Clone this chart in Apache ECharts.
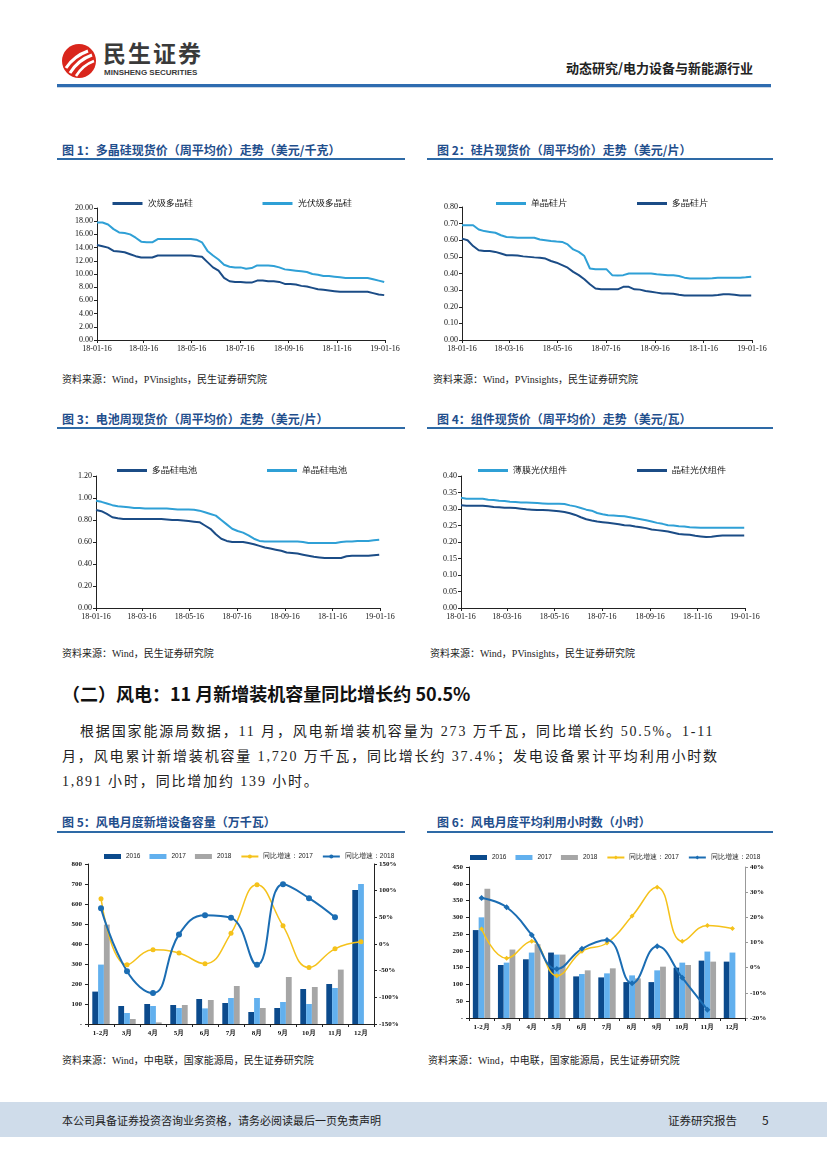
<!DOCTYPE html>
<html><head><meta charset="utf-8">
<script src="https://cdn.jsdelivr.net/npm/echarts@6/dist/echarts.min.js"></script>
<style>
body{margin:0;width:827px;height:1169px;position:relative;background:#fff;font-family:"Noto Sans CJK SC",sans-serif;overflow:hidden}
.abs{position:absolute}
.ttl{position:absolute;font-size:12px;font-weight:bold;color:#1f4e8c;white-space:nowrap;line-height:14px}
.uline{position:absolute;height:2px;background:#2e6aa6}
.src{position:absolute;font-size:10px;color:#222;white-space:nowrap;font-family:"Liberation Serif","Noto Sans CJK SC",serif}
.chart{position:absolute}
.para{position:absolute;left:62px;font-size:14px;letter-spacing:1.85px;color:#222;font-family:"Liberation Serif","Noto Sans CJK SC",serif;line-height:25px;white-space:nowrap}
</style></head>
<body>
<!-- header -->
<svg class="abs" style="left:60px;top:42px" width="38" height="38" viewBox="0 0 38 38">
<circle cx="19" cy="19" r="17" fill="#d9261c"/>
<path d="M6 26 Q14 14 28 9" stroke="#fff" stroke-width="3" fill="none"/>
<path d="M10 31 Q18 18 32 13" stroke="#fff" stroke-width="3" fill="none"/>
<path d="M16 34 Q23 23 34 19" stroke="#fff" stroke-width="2.5" fill="none"/>
</svg>
<div class="abs" style="left:103px;top:39px;font-size:23px;font-weight:bold;color:#3a3a3a;letter-spacing:2px;line-height:26px">民生证券</div>
<div class="abs" style="left:104px;top:68px;font-size:8px;font-weight:bold;color:#3a3a3a;font-family:'Liberation Sans',sans-serif;line-height:10px">MINSHENG SECURITIES</div>
<div class="abs" style="left:566px;top:60px;font-size:13px;font-weight:bold;color:#222;line-height:16px">动态研究/电力设备与新能源行业</div>
<div class="abs" style="left:57px;top:84px;width:714px;height:3px;background:#2e6cb0"></div>
<div class="abs" style="left:57px;top:87px;width:714px;height:1px;background:#c9d6e6"></div>

<!-- titles -->
<div class="ttl" style="left:62px;top:143px">图 1：多晶硅现货价（周平均价）走势（美元/千克）</div>
<div class="uline" style="left:57px;top:158px;width:348px"></div>
<div class="ttl" style="left:437px;top:143px">图 2：硅片现货价（周平均价）走势（美元/片）</div>
<div class="uline" style="left:427px;top:158px;width:346px"></div>
<div class="src" style="left:62px;top:371px">资料来源：Wind，PVinsights，民生证券研究院</div>
<div class="src" style="left:433px;top:371px">资料来源：Wind，PVinsights，民生证券研究院</div>

<div class="ttl" style="left:62px;top:412px">图 3：电池周现货价（周平均价）走势（美元/片）</div>
<div class="uline" style="left:57px;top:427px;width:348px"></div>
<div class="ttl" style="left:437px;top:412px">图 4：组件现货价（周平均价）走势（美元/瓦）</div>
<div class="uline" style="left:427px;top:427px;width:346px"></div>
<div class="src" style="left:62px;top:645px">资料来源：Wind，民生证券研究院</div>
<div class="src" style="left:430px;top:645px">资料来源：Wind，PVinsights，民生证券研究院</div>

<div class="abs" style="left:62px;top:682px;font-size:18px;font-weight:bold;color:#111;white-space:nowrap;line-height:22px">（二）风电：11 月新增装机容量同比增长约 50.5%</div>
<div class="para" style="top:719px;left:80px">根据国家能源局数据，11 月，风电新增装机容量为 273 万千瓦，同比增长约 50.5%。1-11</div>
<div class="para" style="top:744px">月，风电累计新增装机容量 1,720 万千瓦，同比增长约 37.4%；发电设备累计平均利用小时数</div>
<div class="para" style="top:769px">1,891 小时，同比增加约 139 小时。</div>

<div class="ttl" style="left:62px;top:815px">图 5：风电月度新增设备容量（万千瓦）</div>
<div class="uline" style="left:57px;top:831px;width:348px"></div>
<div class="ttl" style="left:437px;top:815px">图 6：风电月度平均利用小时数（小时）</div>
<div class="uline" style="left:427px;top:831px;width:346px"></div>
<div class="src" style="left:62px;top:1052px">资料来源：Wind，中电联，国家能源局，民生证券研究院</div>
<div class="src" style="left:428px;top:1052px">资料来源：Wind，中电联，国家能源局，民生证券研究院</div>

<!-- footer -->
<div class="abs" style="left:0;top:1102px;width:827px;height:35px;background:#cfdcea"></div>
<div class="abs" style="left:62px;top:1112px;font-size:11px;color:#222;line-height:16px;white-space:nowrap">本公司具备证券投资咨询业务资格，请务必阅读最后一页免责声明</div>
<div class="abs" style="left:668px;top:1112px;font-size:11.5px;color:#222;line-height:16px;white-space:nowrap">证券研究报告</div>
<div class="abs" style="left:762px;top:1112px;font-size:12px;color:#222;line-height:16px">5</div>

<div id="c1" class="chart" style="left:57px;top:180px;width:350px;height:180px"></div>
<div id="c2" class="chart" style="left:427px;top:180px;width:350px;height:180px"></div>
<div id="c3" class="chart" style="left:57px;top:450px;width:350px;height:180px"></div>
<div id="c4" class="chart" style="left:427px;top:450px;width:350px;height:180px"></div>
<div id="c5" class="chart" style="left:57px;top:840px;width:345px;height:200px"></div>
<div id="c6" class="chart" style="left:427px;top:840px;width:350px;height:200px"></div>

<script>
// ---------- data ----------
var weeks = ['2018-01-16','2018-01-23','2018-01-30','2018-02-06','2018-02-13','2018-02-20','2018-02-27','2018-03-06','2018-03-13','2018-03-20',
'2018-03-27','2018-04-03','2018-04-10','2018-04-17','2018-04-24','2018-05-01','2018-05-08','2018-05-15','2018-05-22','2018-05-29',
'2018-06-05','2018-06-12','2018-06-19','2018-06-26','2018-07-03','2018-07-10','2018-07-17','2018-07-24','2018-07-31','2018-08-07',
'2018-08-14','2018-08-21','2018-08-28','2018-09-04','2018-09-11','2018-09-18','2018-09-25','2018-10-02','2018-10-09','2018-10-16',
'2018-10-23','2018-10-30','2018-11-06','2018-11-13','2018-11-20','2018-11-27','2018-12-04','2018-12-11','2018-12-18','2018-12-25',
'2019-01-01','2019-01-08','2019-01-15'];
var dateTicks = ['18-01-16','18-03-16','18-05-16','18-07-16','18-09-16','18-11-16','19-01-16'];

var polySecondary = [14.4,14.2,14.0,13.5,13.4,13.3,13.0,12.7,12.5,12.5,
12.5,12.8,12.8,12.8,12.8,12.8,12.8,12.8,12.7,12.6,
11.8,11.0,10.5,9.4,8.9,8.8,8.8,8.7,8.7,9.0,
9.0,8.9,8.9,8.8,8.5,8.5,8.4,8.2,8.1,7.9,
7.7,7.6,7.5,7.4,7.3,7.3,7.3,7.3,7.3,7.3,
7.1,6.9,6.8];
var polySolar = [17.8,17.8,17.5,16.8,16.3,16.2,16.0,15.5,14.9,14.8,
14.8,15.3,15.3,15.3,15.3,15.3,15.3,15.3,15.2,14.8,
13.5,12.8,12.2,11.4,11.1,11.0,11.0,10.8,10.9,11.3,
11.3,11.3,11.2,11.0,10.7,10.6,10.5,10.4,10.3,10.0,
9.9,9.7,9.7,9.6,9.5,9.4,9.4,9.4,9.4,9.4,
9.2,9.0,8.8];
var waferMono = [.69,.69,.69,.665,.655,.65,.645,.63,.62,.618,
.615,.615,.615,.615,.605,.60,.595,.592,.59,.575,
.545,.53,.505,.43,.425,.425,.425,.39,.388,.39,
.40,.40,.40,.40,.40,.395,.393,.39,.39,.385,
.375,.37,.37,.37,.37,.372,.375,.375,.375,.375,
.375,.377,.38];
var waferPoly = [.61,.60,.565,.54,.535,.535,.53,.52,.51,.51,
.508,.503,.50,.497,.495,.49,.475,.465,.45,.435,
.41,.39,.365,.335,.31,.305,.305,.305,.305,.32,
.32,.305,.303,.295,.29,.285,.28,.28,.278,.272,
.268,.268,.268,.268,.268,.268,.27,.275,.275,.272,
.268,.268,.268];
var cellPoly = [.89,.88,.855,.825,.815,.81,.81,.81,.81,.81,
.81,.81,.81,.805,.80,.80,.795,.79,.785,.78,
.75,.72,.67,.63,.61,.60,.60,.60,.59,.58,
.565,.55,.54,.53,.52,.505,.50,.495,.485,.475,
.465,.46,.455,.455,.455,.455,.47,.475,.475,.475,
.475,.48,.485];
var cellMono = [.975,.965,.95,.935,.925,.92,.915,.91,.91,.905,
.905,.905,.905,.905,.90,.895,.895,.895,.893,.885,
.87,.855,.84,.80,.76,.72,.70,.685,.66,.63,
.61,.605,.605,.605,.605,.605,.605,.605,.60,.59,
.59,.59,.59,.59,.59,.60,.605,.605,.61,.61,
.61,.615,.62];
var moduleThin = [.334,.331,.331,.331,.331,.328,.327,.325,.324,.322,
.321,.320,.320,.319,.318,.317,.316,.316,.316,.315,
.311,.308,.303,.298,.295,.288,.284,.281,.28,.279,
.278,.275,.272,.269,.266,.262,.258,.255,.251,.25,
.248,.247,.245,.244,.243,.243,.243,.243,.243,.243,
.243,.243,.243];
var moduleCrystal = [.311,.31,.31,.31,.31,.308,.306,.305,.304,.304,
.303,.301,.299,.298,.297,.297,.296,.295,.293,.291,
.287,.282,.275,.269,.265,.262,.26,.258,.256,.254,
.251,.25,.247,.245,.242,.238,.236,.234,.232,.228,
.224,.223,.222,.219,.217,.215,.216,.218,.22,.22,
.22,.22,.22];

var months = ['1-2月','3月','4月','5月','6月','7月','8月','9月','10月','11月','12月'];
var cap2016 = [162,90,100,95,125,105,60,80,175,200,670];
var cap2017 = [297,55,90,80,78,130,130,110,100,180,700];
var cap2018 = [497,25,8,95,120,190,80,235,185,272,null];
var capYoY2017 = [85,-39,-11,-17,-37,20,111,34,-44,-9,4];
var capYoY2018 = [67,-51,-92,18,54,49,-39,112,86,50,null];

var hrs2016 = [262,158,175,195,124,121,107,107,150,171,168];
var hrs2017 = [300,165,195,189,131,133,127,142,165,198,195];
var hrs2018 = [385,204,220,189,142,148,118,153,158,168,null];
var hrsYoY2017 = [15.4,3.7,10.5,-3.2,6.5,9.8,20.5,32,10.5,16.8,15.6];
var hrsYoY2018 = [27.7,24,13,-0.5,7.5,11,-6.2,8.5,-4,-16.7,null];

// ---------- helpers ----------
var DARK = '#1b4c86', LIGHT = '#2fa0d6';
function ts(s){ var p = s.split('-'); return new Date(+p[0], +p[1]-1, +p[2]).getTime(); }
function tickTs(l){ return ts('20' + l); }
function pad(n){ return (n<10?'0':'') + n; }
var axisFont = {fontFamily:'Liberation Serif', fontSize:8, color:'#111'};

function lineChart(id, grid, yMax, yInt, dec, sers){
  var c = echarts.init(document.getElementById(id));
  var tickVals = dateTicks.map(tickTs);
  c.setOption({
    animation:false,
    legend:{top:grid.lt, left:'center', itemGap:70, itemWidth:30, itemHeight:3, icon:'rect',
      textStyle:{fontSize:9, color:'#111'}, data:sers.map(function(s){return s.name;})},
    grid:{left:grid.l, right:grid.r, top:grid.t, bottom:grid.b},
    xAxis:{type:'value', min:tickVals[0], max:tickVals[tickVals.length-1],
      axisLine:{lineStyle:{color:'#222', width:1}},
      axisTick:{show:true, customValues:tickVals, length:3, lineStyle:{color:'#222'}},
      axisLabel:Object.assign({customValues:tickVals, margin:5, showMinLabel:true, showMaxLabel:true,
        formatter:function(v){ var d=new Date(v); return (d.getFullYear()%100)+'-'+pad(d.getMonth()+1)+'-'+pad(d.getDate()); }}, axisFont),
      splitLine:{show:false}},
    yAxis:{type:'value', min:0, max:yMax, interval:yInt,
      axisLine:{show:true, lineStyle:{color:'#222', width:1}},
      axisTick:{show:true, length:3, lineStyle:{color:'#222'}},
      axisLabel:Object.assign({formatter:function(v){return v.toFixed(2);}, margin:4}, axisFont),
      splitLine:{show:false}},
    series:sers.map(function(s){
      return {name:s.name, type:'line', showSymbol:false, symbol:'none', color:s.color,
        lineStyle:{width:2, color:s.color},
        data:weeks.map(function(w,i){ return [ts(w), s.data[i]]; })};
    })
  });
}

lineChart('c1', {l:40, r:22, t:28, b:20, lt:14}, 20, 2, 2, [
  {name:'次级多晶硅', color:DARK, data:polySecondary},
  {name:'光伏级多晶硅', color:LIGHT, data:polySolar}]);
lineChart('c2', {l:35, r:25, t:27, b:20, lt:14}, 0.8, 0.1, 2, [
  {name:'单晶硅片', color:LIGHT, data:waferMono},
  {name:'多晶硅片', color:DARK, data:waferPoly}]);
lineChart('c3', {l:39, r:27, t:26, b:22, lt:11}, 1.2, 0.2, 2, [
  {name:'多晶硅电池', color:DARK, data:cellPoly},
  {name:'单晶硅电池', color:LIGHT, data:cellMono}]);
lineChart('c4', {l:34, r:32, t:26, b:22, lt:11}, 0.4, 0.05, 2, [
  {name:'薄膜光伏组件', color:LIGHT, data:moduleThin},
  {name:'晶硅光伏组件', color:DARK, data:moduleCrystal}]);

function barLine(id, grid, lMax, lInt, rMin, rMax, rInt, d16, d17, d18, y17, y18, sym, rightAxisColor){
  var c = echarts.init(document.getElementById(id));
  var bar = function(name, data, color){ return {name:name, type:'bar', data:data, color:color, itemStyle:{color:color}, barWidth:5.8, barGap:'0%'}; };
  var line = function(name, data, color, w, sz){ return {name:name, type:'line', yAxisIndex:1, data:data, smooth:0.45, color:color,
    symbol:sym, symbolSize:sz, itemStyle:{color:color}, lineStyle:{width:w, color:color}, connectNulls:false}; };
  c.setOption({
    animation:false,
    legend:{top:grid.lt, left:grid.ll, width:340, itemGap:9, itemWidth:17, itemHeight:5,
      textStyle:{fontSize:6.5, color:'#222'},
      data:[{name:'2016', icon:'rect'},{name:'2017', icon:'rect'},{name:'2018', icon:'rect'},{name:'同比增速：2017'},{name:'同比增速：2018'}]},
    grid:{left:grid.l, right:grid.r, top:grid.t, bottom:grid.b},
    xAxis:{type:'category', data:months,
      axisLine:{lineStyle:{color:'#222'}}, axisTick:{show:true, alignWithLabel:false, length:3, lineStyle:{color:'#222'}},
      axisLabel:{fontFamily:'Liberation Serif', fontSize:7, color:'#111', fontWeight:'bold', margin:6, interval:0}},
    yAxis:[{type:'value', min:0, max:lMax, interval:lInt,
        axisLine:{show:true, lineStyle:{color:'#222'}}, axisTick:{show:true, length:3, lineStyle:{color:'#222'}},
        axisLabel:{fontFamily:'Liberation Serif', fontSize:7, color:'#111', fontWeight:'bold', margin:6,
          formatter:function(v){ return v===0 ? '-' : v; }},
        splitLine:{show:false}},
      {type:'value', min:rMin, max:rMax, interval:rInt,
        axisLine:{show:true, lineStyle:{color:rightAxisColor}}, axisTick:{show:true, length:3, lineStyle:{color:rightAxisColor}},
        axisLabel:{fontFamily:'Liberation Serif', fontSize:7, color:'#111', fontWeight:'bold', margin:5,
          formatter:function(v){ return v + '%'; }},
        splitLine:{show:false}}],
    series:[bar('2016', d16, '#0b4a8c'), bar('2017', d17, '#62b0ee'), bar('2018', d18, '#a6a6a6'),
      line('同比增速：2017', y17, '#f5c21b', 1.5, 5), line('同比增速：2018', y18, '#1b6db3', 2, 6)]
  });
}

barLine('c5', {l:31, r:28, t:24, b:16, lt:8, ll:42}, 800, 100, -150, 150, 50,
  cap2016, cap2017, cap2018, capYoY2017, capYoY2018, 'circle', '#222');
barLine('c6', {l:42, r:32, t:27, b:22, lt:9, ll:38}, 450, 50, -20, 40, 10,
  hrs2016, hrs2017, hrs2018, hrsYoY2017, hrsYoY2018, 'diamond', '#999');
</script>
</body></html>
